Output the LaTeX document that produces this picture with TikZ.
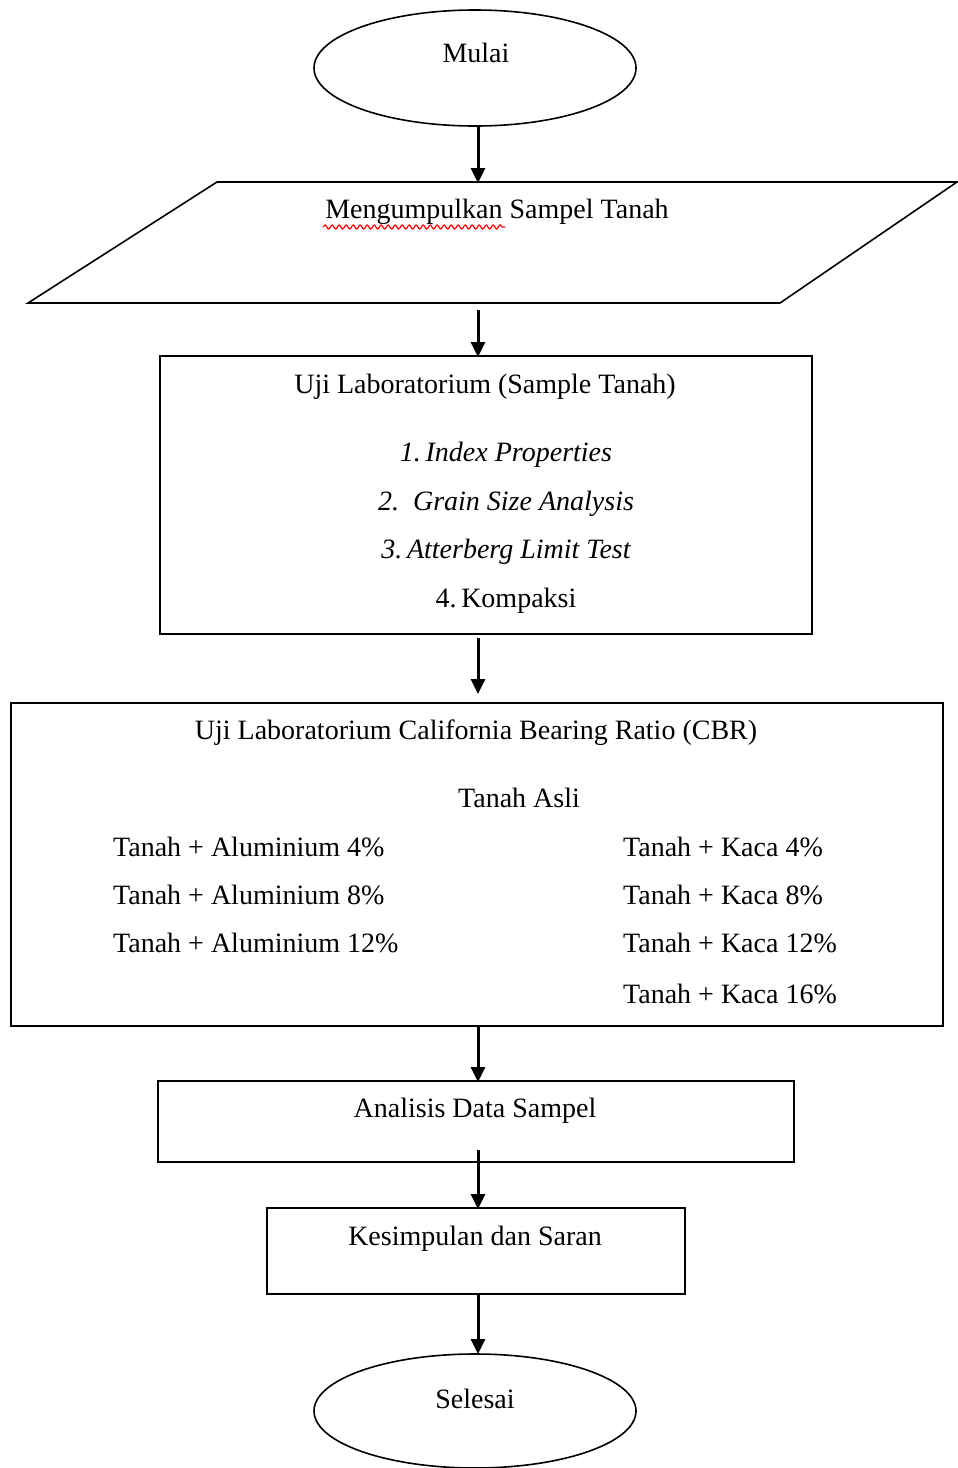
\documentclass[tikz,border=0pt]{standalone}
\usepackage{fontspec}
\setmainfont{Liberation Serif}
\usetikzlibrary{arrows.meta,shapes.geometric,decorations.pathmorphing}
\tikzset{
  shapeline/.style={draw=black, line width=1.6pt},
  txt/.style={inner sep=0pt, anchor=base, font=\fontsize{28}{34}\selectfont},
  ltxt/.style={txt, anchor=base west},
  arr/.style={draw=black, line width=3pt, -{Triangle[width=14pt,length=15pt]}},
  squiggle/.style={draw=red, line width=1.2pt, decorate, decoration={snake, amplitude=2pt, segment length=7pt}}
}
\begin{document}
\begin{tikzpicture}[x=1pt,y=-1pt]
\useasboundingbox (0,0) rectangle (958,1468);
\fill[white] (0,0) rectangle (958,1468);

% start ellipse
\draw[shapeline] (475,68) ellipse [x radius=161, y radius=58];
\node[txt] (mulai) at (476,62) {Mulai};

% parallelogram
\draw[shapeline] (217,182) -- (957,182) -- (780,303) -- (28,303) -- cycle;
\node[txt] (kumpul) at (497,218) {Mengumpulkan Sampel Tanah};
\draw[squiggle] (323,227) -- (505,227);

% lab box
\draw[shapeline] (160,356) rectangle (812,634);
\node[txt] (uji) at (485,393) {Uji Laboratorium (Sample Tanah)};
\node[txt] (i1) at (506,461) {\itshape 1.\,Index Properties};
\node[txt] (i2) at (506,510) {\itshape 2.\ \ Grain Size Analysis};
\node[txt] (i3) at (506,558) {\itshape 3.\,Atterberg Limit Test};
\node[txt] (i4) at (506,607) {4.\,Kompaksi};

% CBR box
\draw[shapeline] (11,703) rectangle (943,1026);
\node[txt] (cbr) at (476,739) {Uji Laboratorium California Bearing Ratio (CBR)};
\node[txt] (asli) at (519,807) {Tanah Asli};
\node[ltxt] (al4) at (113,856) {Tanah + Aluminium 4\%};
\node[ltxt] (al8) at (113,904) {Tanah + Aluminium 8\%};
\node[ltxt] (al12) at (113,952) {Tanah + Aluminium 12\%};
\node[ltxt] (k4) at (623,856) {Tanah + Kaca 4\%};
\node[ltxt] (k8) at (623,904) {Tanah + Kaca 8\%};
\node[ltxt] (k12) at (623,952) {Tanah + Kaca 12\%};
\node[ltxt] (k16) at (623,1003) {Tanah + Kaca 16\%};

% analysis box
\draw[shapeline] (158,1081) rectangle (794,1162);
\node[txt] (anal) at (475,1117) {Analisis Data Sampel};

% conclusion box
\draw[shapeline] (267,1208) rectangle (685,1294);
\node[txt] (kes) at (475,1245) {Kesimpulan dan Saran};

% end ellipse
\draw[shapeline] (475,1411) ellipse [x radius=161, y radius=57];
\node[txt] (sel) at (475,1408) {Selesai};

% connector points
\coordinate (a1s) at (478,126);  \coordinate (a1e) at (478,183);
\coordinate (a2s) at (478,310);  \coordinate (a2e) at (478,357);
\coordinate (a3s) at (478,638);  \coordinate (a3e) at (478,694);
\coordinate (a4s) at (478,1026); \coordinate (a4e) at (478,1082);
\coordinate (a5s) at (478,1150); \coordinate (a5e) at (478,1209);
\coordinate (a6s) at (478,1294); \coordinate (a6e) at (478,1354);

\draw[arr] (a1s) -- (a1e);
\draw[arr] (a2s) -- (a2e);
\draw[arr] (a3s) -- (a3e);
\draw[arr] (a4s) -- (a4e);
\draw[arr] (a5s) -- (a5e);
\draw[arr] (a6s) -- (a6e);
\end{tikzpicture}
\end{document}
